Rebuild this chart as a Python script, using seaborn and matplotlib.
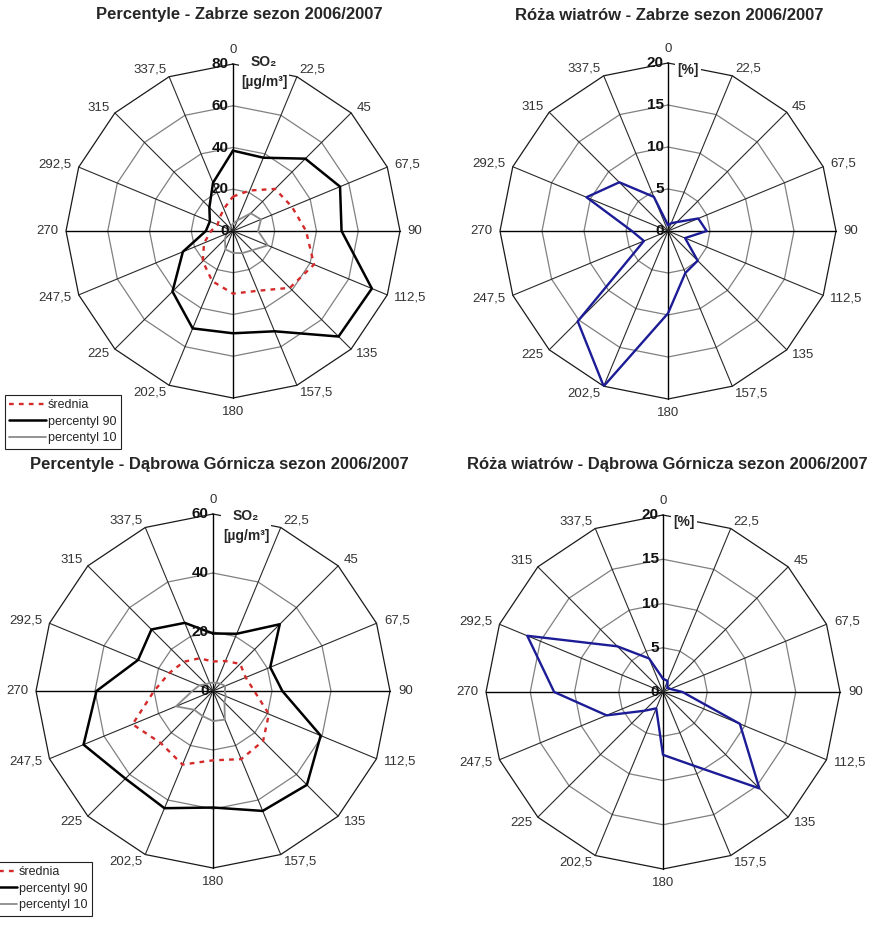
import numpy as np
import pandas as pd
import matplotlib
matplotlib.use('Agg')
import matplotlib.pyplot as plt
from matplotlib.lines import Line2D
import seaborn as sns

# wind directions [deg] and their labels
directions = [0, 22.5, 45, 67.5, 90, 112.5, 135, 157.5, 180, 202.5, 225, 247.5, 270, 292.5, 315, 337.5]
dir_labels = ['0', '22,5', '45', '67,5', '90', '112,5', '135', '157,5',
              '180', '202,5', '225', '247,5', '270', '292,5', '315', '337,5']

# SO2 [ug/m3] - Zabrze
zabrze_mean = [16.5, 21, 28.5, 30.5, 35, 42, 38.5, 31, 30, 26, 20.5, 15, 10.5, 8, 9, 11.5]
zabrze_p90 = [38.5, 38, 49, 55.5, 52, 72, 71.5, 52, 49, 50.5, 41, 26, 13, 12, 16, 25]
zabrze_p10 = [3.5, 5.5, 12, 14.5, 12, 18, 13, 11.5, 10.5, 9.5, 5.5, 3.5, 2.5, 2, 2, 2.5]

# SO2 [ug/m3] - Dabrowa Gornicza
dabrowa_mean = [10, 11, 13, 12, 14, 20.5, 24, 25, 23.5, 27, 25, 29.5, 20, 16, 14, 12]
dabrowa_p90 = [19.5, 21, 32, 21, 23.5, 39.5, 45, 44, 39.5, 43, 42, 47.5, 39.5, 27.5, 29.5, 25]
dabrowa_p10 = [2.8, 3, 3.5, 4.5, 4, 4.7, 5.5, 10.5, 10.2, 9.2, 9, 13.6, 7, 5, 3.3, 3]

# wind frequency [%]
zabrze_wind = [0.7, 1.0, 1.5, 3.9, 4.6, 2.2, 5.0, 5.4, 9.8, 20.0, 15.2, 3.1, 4.3, 10.5, 8.2, 4.4]
dabrowa_wind = [1.5, 1.35, 0.7, 0.9, 2.2, 9.4, 15.4, 9.0, 7.1, 2.0, 3.0, 6.9, 12.3, 16.6, 7.3, 4.1]

sns.set_style('white')
plt.rcParams['font.family'] = ['Liberation Sans', 'DejaVu Sans']

W, H = 890, 925
fig = plt.figure(figsize=(W / 100, H / 100), dpi=100)


def px(x, y):
    return x / W, 1 - y / H


def make_ax(cx, cy, r):
    l, b = px(cx - r, cy + r)
    ax = fig.add_axes([l, b, 2 * r / W, 2 * r / H], projection='polar')
    ax.set_theta_zero_location('N')
    ax.set_theta_direction(-1)
    ax.grid(False)
    ax.set_xticks([])
    ax.set_yticks([])
    ax.spines['polar'].set_visible(False)
    ax.patch.set_alpha(0)
    return ax


def radar_grid(ax, rmax, step):
    th = np.deg2rad(directions + [360])
    ax.set_ylim(0, rmax)
    for ring in np.arange(step, rmax + step / 2, step):
        outer = ring == rmax
        ax.plot(th, [ring] * len(th), color='#1a1a1a' if outer else '#808080',
                lw=0.9, clip_on=False, zorder=1)
    for d in directions:
        axis = d in (0, 180, 90, 270)
        ax.plot([np.deg2rad(d)] * 2, [0, rmax], color='#000000' if axis else '#2a2a2a',
                lw=1.0 if axis else 0.8, clip_on=False, zorder=1)
    for d, lab in zip(directions, dir_labels):
        s, c = np.sin(np.deg2rad(d)), np.cos(np.deg2rad(d))
        ha = 'center' if abs(s) < 0.2 else ('left' if s > 0 else 'right')
        va = 'bottom' if c > 0.95 else ('top' if c < -0.95 else 'center')
        ax.text(np.deg2rad(d), rmax * 1.045, lab, ha=ha, va=va, fontsize=9.5, color='#333333')
    for v in np.arange(0, rmax + step / 2, step):
        ax.annotate(f'{v:g}', xy=(0, v), xytext=(-3, 0), textcoords='offset points',
                    ha='right', va='center', fontsize=11, fontweight='bold', color='#111111',
                    zorder=5)


def series_df(values):
    th = np.deg2rad(directions + [360])
    return pd.DataFrame({'theta': th, 'value': list(values) + [values[0]]})


red = '#d42a2a'
gray = '#8a8a8a'
blue = '#1c1c96'


def clean(ax):
    ax.set_xlabel('')
    ax.set_ylabel('')
    ax.set_xticks([])
    ax.set_yticks([])


def percentile_panel(cx, cy, r, rmax, mean, p90, p10):
    ax = make_ax(cx, cy, r)
    radar_grid(ax, rmax, 20)
    sns.lineplot(data=series_df(p10), x='theta', y='value', ax=ax, sort=False,
                 estimator=None, color=gray, lw=1.3, zorder=3)
    sns.lineplot(data=series_df(p90), x='theta', y='value', ax=ax, sort=False,
                 estimator=None, color='black', lw=1.8, zorder=3)
    sns.lineplot(data=series_df(mean), x='theta', y='value', ax=ax, sort=False,
                 estimator=None, color=red, lw=1.7, linestyle=(0, (2, 2.2)), zorder=4)
    clean(ax)
    return ax


def wind_panel(cx, cy, r, values):
    ax = make_ax(cx, cy, r)
    radar_grid(ax, 20, 5)
    sns.lineplot(data=series_df(values), x='theta', y='value', ax=ax, sort=False,
                 estimator=None, color=blue, lw=1.7, zorder=3)
    clean(ax)
    return ax


percentile_panel(233, 231, 167, 80, zabrze_mean, zabrze_p90, zabrze_p10)
wind_panel(668, 231, 168, zabrze_wind)
percentile_panel(213, 691, 177, 60, dabrowa_mean, dabrowa_p90, dabrowa_p10)
wind_panel(663, 692, 177, dabrowa_wind)

title_kw = dict(ha='center', va='center', fontsize=12, fontweight='bold')
fig.text(*px(239, 15), 'Percentyle - Zabrze sezon 2006/2007', **title_kw)
fig.text(*px(669, 15), 'Róża wiatrów - Zabrze sezon 2006/2007', **title_kw)
fig.text(*px(219, 464), 'Percentyle - Dąbrowa Górnicza sezon 2006/2007', **title_kw)
fig.text(*px(667, 464), 'Róża wiatrów - Dąbrowa Górnicza sezon 2006/2007', **title_kw)

unit_kw = dict(ha='center', va='center', fontsize=10, fontweight='bold', linespacing=1.5,
               bbox=dict(facecolor='white', edgecolor='none', pad=1.5), zorder=10)
fig.text(*px(264, 72), 'SO₂\n[µg/m³]', **unit_kw)
fig.text(*px(246, 526), 'SO₂\n[µg/m³]', **unit_kw)
fig.text(*px(688, 70), '[%]', **unit_kw)
fig.text(*px(684, 522), '[%]', **unit_kw)

handles = [Line2D([], [], color=red, lw=1.7, linestyle=(0, (2, 2.2))),
           Line2D([], [], color='black', lw=1.8),
           Line2D([], [], color=gray, lw=1.3)]
labels = ['średnia', 'percentyl 90', 'percentyl 10']
leg_kw = dict(fontsize=9, frameon=True, fancybox=False, edgecolor='#222222',
              handlelength=2.9, labelspacing=0.35, borderpad=0.35, handletextpad=0.2,
              borderaxespad=0)
leg1 = fig.legend(handles, labels, loc='upper left', bbox_to_anchor=px(5, 395), **leg_kw)
leg2 = fig.legend(handles, labels, loc='upper right', bbox_to_anchor=px(92, 862), **leg_kw)
for leg in (leg1, leg2):
    leg.get_frame().set_linewidth(0.8)
    leg.get_frame().set_alpha(1)

fig.savefig('out.png', dpi=100, facecolor='white')
